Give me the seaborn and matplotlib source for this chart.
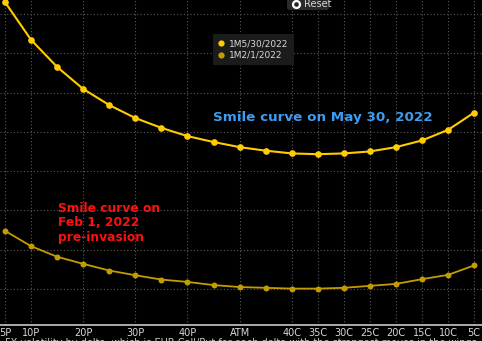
import numpy as np
import pandas as pd
import matplotlib
matplotlib.use("Agg")
import matplotlib.pyplot as plt
from matplotlib.lines import Line2D
from matplotlib.patches import FancyBboxPatch
import seaborn as sns

# ---- data ----
categories = ["5P", "10P", "15P", "20P", "25P", "30P", "35P", "40P", "45P", "ATM",
              "45C", "40C", "35C", "30C", "25C", "20C", "15C", "10C", "5C"]
tick_labels = ["5P", "10P", "20P", "30P", "40P", "ATM",
               "40C", "35C", "30C", "25C", "20C", "15C", "10C", "5C"]
may30_2022 = [13.30, 12.34, 11.65, 11.09, 10.68, 10.35, 10.10, 9.89, 9.74, 9.61,
              9.52, 9.45, 9.43, 9.45, 9.50, 9.61, 9.78, 10.05, 10.49]
feb1_2022 = [7.48, 7.09, 6.82, 6.64, 6.47, 6.35, 6.24, 6.18, 6.10, 6.05,
             6.03, 6.01, 6.01, 6.03, 6.08, 6.13, 6.25, 6.36, 6.60]
series_names = ["1M5/30/2022", "1M2/1/2022"]
series_colors = ["#ffcc00", "#c39d00"]

pos = np.arange(len(categories))
df = pd.concat([
    pd.DataFrame({"pos": pos, "vol": may30_2022, "series": series_names[0]}),
    pd.DataFrame({"pos": pos, "vol": feb1_2022, "series": series_names[1]}),
])

sns.set_style("dark")
plt.rcParams["font.family"] = ["DejaVu Sans"]
NARROW = ["Liberation Sans Narrow", "DejaVu Sans"]

W, H = 482, 341
fig = plt.figure(figsize=(W / 100, H / 100), dpi=100, facecolor="black")
ax = fig.add_axes([0, 16 / H, 1, 325 / H])
ax.set_facecolor("black")

for name, col, lw, ms in zip(series_names, series_colors, [1.5, 1.3], [4.8, 4.3]):
    sns.lineplot(data=df[df["series"] == name], x="pos", y="vol", ax=ax,
                 color=col, marker="o", markersize=ms, markeredgewidth=0,
                 linewidth=lw, legend=False)

ax.set_xlim(-0.192, 18.30)
ax.set_ylim(5.084, 13.354)
tick_pos = [categories.index(t) for t in tick_labels]
ax.set_xticks(tick_pos)
ax.set_xticklabels(tick_labels)
ax.set_yticks(np.arange(6, 14, 1))
ax.set_yticklabels([])
ax.set_xlabel("")
ax.set_ylabel("")
ax.grid(True, color="#5a5a5a", linestyle=(0, (1, 2)), linewidth=0.8)
for s in ["top", "left", "right"]:
    ax.spines[s].set_visible(False)
ax.spines["bottom"].set_color("#b8b8b8")
ax.spines["bottom"].set_linewidth(1.3)
ax.tick_params(axis="y", length=0)
ax.tick_params(axis="x", length=2, color="#b8b8b8", colors="#d8d8d8",
               labelsize=7, pad=0.3)
for lab in ax.get_xticklabels():
    lab.set_family(NARROW)

# legend
handles = [Line2D([], [], linestyle="none", marker="o", markersize=4.5,
                  markerfacecolor=c, markeredgewidth=0) for c in series_colors]
leg = fig.legend(handles, series_names, loc="upper left",
                 bbox_to_anchor=(213 / W, 1 - 34 / H), bbox_transform=fig.transFigure,
                 borderaxespad=0,
                 frameon=True, facecolor="#1b1b1b", edgecolor="none", framealpha=1,
                 fontsize=6.5, labelcolor="#d8d8d8", handlelength=0.6,
                 handletextpad=0.6, borderpad=0.6, labelspacing=0.25, fancybox=False)
for t in leg.get_texts():
    t.set_family(NARROW)

# reset button
fig.add_artist(FancyBboxPatch((287 / W, 1 - 10 / H), 42 / W, 16 / H,
                              boxstyle="round,pad=0,rounding_size=0.006",
                              transform=fig.transFigure, fc="#2a2a2a", ec="none"))
fig.add_artist(Line2D([296 / W], [1 - 4 / H], marker="o", markersize=5,
                      markerfacecolor="#2a2a2a", markeredgecolor="white",
                      markeredgewidth=1.6, transform=fig.transFigure))
fig.text(304 / W, 1 - 4 / H, "Reset", color="#d8d8d8", fontsize=7, va="center",
         ha="left", family=NARROW)

# annotations
fig.text(213 / W, 1 - 121 / H, "Smile curve on May 30, 2022", color="#3d9df2",
         fontsize=9.7, fontweight="bold", va="baseline", ha="left")
red_lines = ["Smile curve on", "Feb 1, 2022", "pre-invasion"]
for i, line in enumerate(red_lines):
    fig.text(58 / W, 1 - (212 + i * 14.4) / H, line, color="#ff1010",
             fontsize=8.8, fontweight="bold", va="baseline", ha="left")

# caption (cut off at the bottom edge, as in the reference)
fig.text(5 / W, 1 - 338.5 / H,
         "FX volatility by delta, which is EUR Call/Put for each delta with the strongest moves in the wings",
         color="#c8c8c8", fontsize=7, va="top", ha="left", family=NARROW)

fig.savefig("out.png", dpi=100, facecolor="black")
